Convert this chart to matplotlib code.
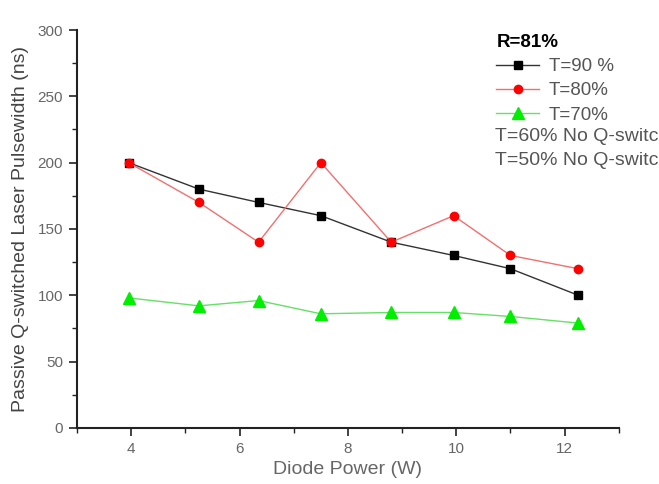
import matplotlib
matplotlib.use("Agg")
import matplotlib.pyplot as plt
from matplotlib.ticker import MultipleLocator

# data
power = [3.95, 5.25, 6.35, 7.5, 8.8, 9.95, 11.0, 12.25]
t90 = [200, 180, 170, 160, 140, 130, 120, 100]
t80 = [200, 170, 140, 200, 140, 160, 130, 120]
t70 = [98, 92, 96, 86, 87, 87, 84, 79]
series_labels = ["T=90 %", "T=80%", "T=70%"]
extra_notes = ["T=60% No Q-switch", "T=50% No Q-switch"]

plt.rcParams["font.family"] = ["Liberation Sans", "DejaVu Sans"]

fig = plt.figure(figsize=(6.59, 4.84), dpi=100)
ax = fig.add_axes([0.117, 0.116, 0.822, 0.822])

ax.plot(power, t90, color="#333333", linewidth=1.0, marker="s", markersize=6,
        markerfacecolor="black", markeredgecolor="black", label=series_labels[0])
ax.plot(power, t80, color="#f07070", linewidth=1.0, marker="o", markersize=6,
        markerfacecolor="#ff0000", markeredgecolor="#ff0000", label=series_labels[1])
ax.plot(power, t70, color="#66e066", linewidth=1.0, marker="^", markersize=8,
        markerfacecolor="#00ee00", markeredgecolor="#00ee00", label=series_labels[2])

ax.set_xlim(3, 13)
ax.set_ylim(0, 300)
ax.xaxis.set_major_locator(MultipleLocator(2))
ax.xaxis.set_minor_locator(MultipleLocator(1))
ax.yaxis.set_major_locator(MultipleLocator(50))
ax.yaxis.set_minor_locator(MultipleLocator(25))

for side in ["top", "right"]:
    ax.spines[side].set_visible(False)
for side in ["left", "bottom"]:
    ax.spines[side].set_linewidth(1.5)
    ax.spines[side].set_color("#222222")

ax.tick_params(which="major", length=6, width=1.2, color="#222222",
               labelsize=11, labelcolor="#666666", pad=4)
ax.tick_params(which="minor", length=3.5, width=1.0, color="#222222")

ax.set_xlabel("Diode Power (W)", fontsize=14, color="#666666", labelpad=4)
ax.set_ylabel("Passive Q-switched Laser Pulsewidth (ns)", fontsize=14,
              color="#444444", labelpad=6)

leg = ax.legend(loc="upper left", bbox_to_anchor=(0.76, 1.008), frameon=False,
                fontsize=13.5, title="R=81%", alignment="left",
                handlelength=2.3, handletextpad=0.5, labelspacing=0.37,
                borderaxespad=0.0)
leg.get_title().set_fontweight("bold")
leg.get_title().set_fontsize(13.5)
for txt in leg.get_texts():
    txt.set_color("#555555")

# the reference lets these two notes run past the right edge
for i, note in enumerate(extra_notes):
    fig.text(0.751, 0.717 - i * 0.048, note, fontsize=14, color="#555555",
             va="center")

fig.savefig("out.png", dpi=100)
